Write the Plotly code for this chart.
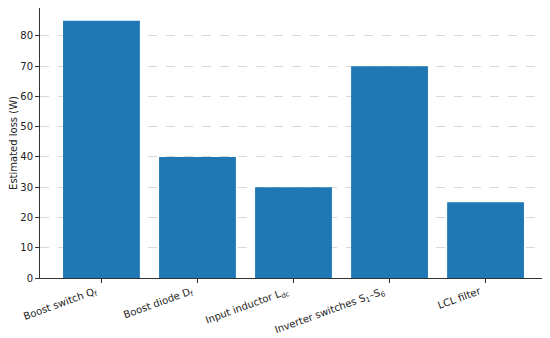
import plotly.graph_objects as go

categories = ["Boost switch Q<sub>f</sub>", "Boost diode D<sub>f</sub>", "Input inductor L<sub>dc</sub>",
              "Inverter switches S<sub>1</sub>–S<sub>6</sub>", "LCL filter"]
losses = [85, 40, 30, 70, 25]

fig = go.Figure(go.Bar(x=categories, y=losses, marker=dict(color="#1f77b4", line=dict(width=0)), width=0.8))

fig.update_layout(
    width=550, height=338,
    margin=dict(l=32, r=11, t=0, b=68, autoexpand=False),
    plot_bgcolor="white", paper_bgcolor="white",
    font=dict(family="DejaVu Sans", size=10, color="#222"),
    showlegend=False, bargap=0.2,
)
fig.update_xaxes(tickangle=-20, showline=True, linecolor="#333", linewidth=1, mirror=True,
                 ticks="outside", ticklen=4, tickcolor="#333", tickfont=dict(size=10),
                 ticklabelshift=-6, ticklabelstandoff=-1,
                 range=[-0.64, 4.64], automargin=False)
fig.update_yaxes(range=[0, 89.25], dtick=10, showline=True, linecolor="#333", linewidth=1, mirror=True,
                 ticks="outside", ticklen=4, tickcolor="#333", layer="above traces",
                 showgrid=True, gridcolor="rgba(190,190,190,0.6)", griddash="dash", gridwidth=1,
                 title=dict(text="Estimated loss (W)", font=dict(size=10), standoff=1), zeroline=False,
                 automargin=False)

fig.write_html("out.html")
